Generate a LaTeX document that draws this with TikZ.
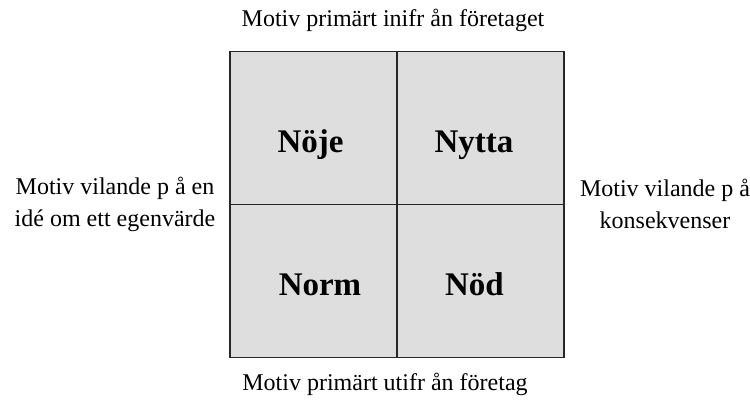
\documentclass[tikz,border=0pt]{standalone}
\usepackage{fontspec}
\setmainfont{Liberation Serif}
\begin{document}
\begin{tikzpicture}[x=1pt,y=-1pt,
  cell/.style={draw=black!85,line width=1.3pt,fill=black!13,minimum width=167pt,minimum height=153pt,inner sep=0pt},
  lab/.style={font=\fontsize{33}{33}\selectfont\bfseries,anchor=base,inner sep=0pt},
  side/.style={font=\fontsize{24}{32}\selectfont,align=center,inner sep=0pt}]
\useasboundingbox (0,0) rectangle (750,407);
\node[cell] (q1) at (313.5,127.75) {};
\node[cell] (q2) at (480.5,127.75) {};
\node[cell] (q3) at (313.5,280.75) {};
\node[cell] (q4) at (480.5,280.75) {};
\node[lab] (noje) at (310.5,152) {Nöje};
\node[lab] (nytta) at (474,152) {Nytta};
\node[lab] (norm) at (320,295) {Norm};
\node[lab] (nod) at (474.5,295) {Nöd};
\node[side] (top) at (393,20) {Motiv primärt inifr ån företaget};
\node[side] (bot) at (385,384) {Motiv primärt utifr ån företag};
\node[side] (left) at (115,204) {Motiv vilande p å en\\idé om ett egenvärde};
\node[side] (right) at (665,204) {Motiv vilande p å\\konsekvenser};
\end{tikzpicture}
\end{document}
